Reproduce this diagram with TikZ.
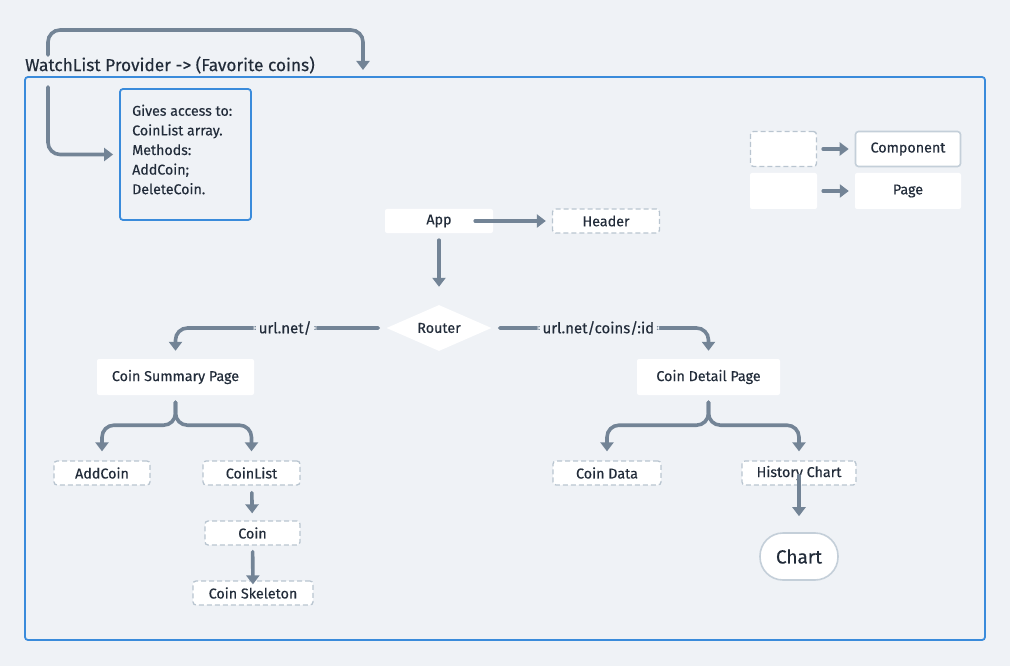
\documentclass[tikz,border=0pt]{standalone}
\usepackage{fontspec}
\setmainfont{Fira Sans}[FakeBold=0.35]
\usetikzlibrary{arrows.meta,shapes.geometric}
\definecolor{bg}{HTML}{EFF2F6}
\definecolor{arrowcol}{HTML}{738496}
\definecolor{framecol}{HTML}{3A8BDB}
\definecolor{dashcol}{HTML}{B9C5D0}
\definecolor{txt}{HTML}{222C3A}
\definecolor{pillcol}{HTML}{C4CFD9}
\begin{document}
\begin{tikzpicture}[x=1pt,y=-1pt,
  every node/.style={text=txt,font=\fontsize{14.3}{17}\selectfont,inner sep=0pt},
  pagebox/.style={fill=white,rounded corners=2pt,minimum height=24pt},
  compbox/.style={fill=white,draw=dashcol,dashed,dash pattern=on 5pt off 3pt,line width=1.3pt,rounded corners=3pt,minimum height=24pt},
  arr/.style={draw=arrowcol,line width=3.6pt,line cap=round,rounded corners=12pt,
    -{Triangle[width=13pt,length=9pt]}},
  edgelabel/.style={fill=bg,inner xsep=5pt,font=\fontsize{15}{17}\selectfont}]
\fill[bg] (0,0) rectangle (1010,666);
\useasboundingbox (0,0) rectangle (1010,666);

% provider frame and its caption
\node[anchor=west,font=\fontsize{17.3}{19}\selectfont] (title) at (25,65) {WatchList Provider -> (Favorite coins)};
\draw[framecol,line width=1.8pt,rounded corners=3pt] (25,77) rectangle (985,640);
\node[draw=framecol,line width=1.8pt,rounded corners=3pt,minimum width=131pt,minimum height=131pt] (info) at (185.5,154.5) {};
\node[anchor=north west,align=left,font=\fontsize{14.2}{19.6}\selectfont] (infotext) at (132,104.5)
  {Gives access to:\\CoinList array.\\Methods:\\AddCoin;\\DeleteCoin.};
\coordinate (topstart) at (48,55);
\coordinate (topend) at (363,70);
\draw[arr] (topstart) -- (48,30) -- (363,30) -- (topend);
\coordinate (leftstart) at (48,87);
\draw[arr] (leftstart) |- ([xshift=-6pt]info.west);

% legend
\node[compbox,minimum width=66pt,minimum height=35pt] (lgc) at (783.5,149) {};
\node[fill=white,draw=pillcol,line width=1.6pt,rounded corners=3pt,minimum width=105pt,minimum height=35pt] (lgcomp) at (908,149) {Component};
\node[pagebox,minimum width=67pt,minimum height=36pt] (lgp) at (783.5,191) {};
\node[pagebox,minimum width=106pt,minimum height=36pt] (lgpage) at (908,191) {Page};
\draw[arr,shorten <=6pt,shorten >=6pt] (lgc) -- (lgcomp);
\draw[arr,shorten <=6pt,shorten >=6pt] (lgp) -- (lgpage);

% app and router
\node[pagebox,minimum width=108pt] (app) at (439,221) {App};
\node[compbox,minimum width=107pt] (header) at (606,221) {Header};
\draw[arr,shorten <=-18pt,shorten >=6pt] (app) -- (header);
\node[diamond,fill=white,minimum width=105pt,minimum height=46pt,aspect=2.3] (router) at (439,328) {Router};
\draw[arr,shorten <=7pt,shorten >=18pt] (app) -- (router);

% pages
\node[pagebox,minimum width=157pt,minimum height=36pt] (sum) at (175.5,377) {Coin Summary Page};
\node[pagebox,minimum width=143pt,minimum height=36pt] (det) at (708.5,377) {Coin Detail Page};
\draw[arr,shorten <=8pt,shorten >=8pt] (router.west) -| (sum.north) node[pos=0.24,edgelabel] {url.net/};
\draw[arr,shorten <=8pt,shorten >=8pt] (router.east) -| (det.north) node[pos=0.246,edgelabel] {url.net/coins/:id};

% components of the summary page
\node[compbox,minimum width=96pt] (add) at (102,473) {AddCoin};
\node[compbox,minimum width=97pt] (list) at (251.5,473) {CoinList};
\node[compbox,minimum width=95pt] (coin) at (252.5,533) {Coin};
\node[compbox,minimum width=120pt] (skel) at (253,593) {Coin Skeleton};
\draw[arr,shorten >=9pt] (sum.south) ++(0,7) -- ++(0,23) -| (add.north);
\draw[arr,shorten >=9pt] (sum.south) ++(0,7) -- ++(0,23) -| (list.north);
\draw[arr,shorten <=7pt,shorten >=7pt] (list) -- (coin);
\draw[arr,shorten <=6pt,shorten >=-4pt] (coin) -- (skel);

% components of the detail page
\node[compbox,minimum width=108pt] (data) at (607,473) {Coin Data};
\node[compbox,minimum width=114pt] (hist) at (799,473) {History Chart};
\node[fill=white,draw=pillcol,line width=1.6pt,rounded corners=23pt,minimum width=78pt,minimum height=47pt,font=\fontsize{19}{22}\selectfont] (chart) at (799,556.5) {Chart};
\draw[arr,shorten >=9pt] (det.south) ++(0,7) -- ++(0,23) -| (data.north);
\draw[arr,shorten >=9pt] (det.south) ++(0,7) -- ++(0,23) -| (hist.north);
\draw[arr,shorten <=-10pt,shorten >=16pt] (hist) -- (chart);
\end{tikzpicture}
\end{document}
